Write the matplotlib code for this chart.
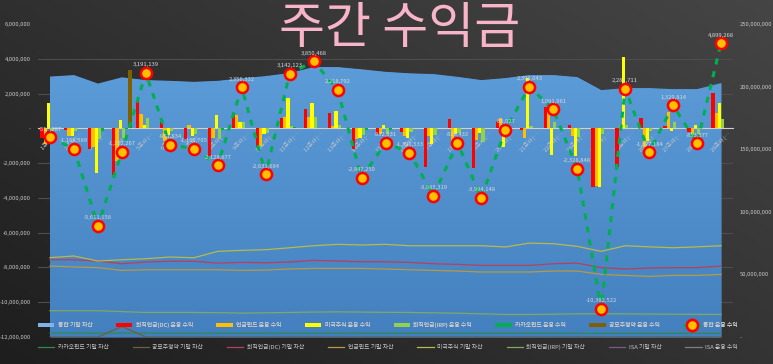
import numpy as np
import matplotlib
matplotlib.use('Agg')
import matplotlib.pyplot as plt
from matplotlib.colors import LinearSegmentedColormap
from matplotlib.ticker import FuncFormatter
from matplotlib.patches import Patch

plt.rcParams['font.family'] = ['Noto Sans CJK KR', 'DejaVu Sans']

# 주차 라벨
weeks = [f'{n}주차 (…' for n in range(1, 30)]

# 통합 운용 수익 (원)
total_profit = [-518887, -1168589, -5611158, -1352267, 3191139, -951834, -1160705,
                -2128677, 2356332, -2631684, 3142123, 3850468, 2218792, -2847250,
                -832031, -1390533, -3885319, -838432, -3994148, -88027, 2391043,
                1091961, -2328848, -10382522, 2281711, -1377184, 1329814, -853377,
                4899268]

# 항목별 운용 수익 (백만원)
dc_profit = [-0.55, -0.1, -1.2, -2.7, 1.55, 0.38, -0.6, -1.6, 0.9, -1.05, 0.57, 1.11, 0.9, -1.2,
             -0.3, -0.2, -2.2, 0.53, -2.3, 0.42, -0.1, 1.2, 0.22, -3.4, -2.2, 0.57, 0.15, -0.2, 2.05]
pension_profit = [-0.88, -0.45, -1.1, -1.9, 0.85, -0.75, 0.2, -0.57, 0.75, -1.0, 0.63, 0.63, 0.12, -0.6,
                  -0.35, -0.45, -0.42, -0.75, -0.67, 0.57, -0.55, 1.05, -0.45, -3.3, 0.2, -1.1, 0.96, -0.5, 0.86]
us_profit = [1.46, -0.45, -2.55, 0.48, 0.2, -0.4, -0.45, 0.77, 0.35, -0.3, 1.72, 1.47, 1.0, -0.55,
             0.2, -0.55, -0.9, -0.35, -0.25, -1.1, 2.9, -1.53, -1.6, -3.35, 4.1, -0.7, -0.15, 0.19, 1.45]
irp_profit = [-0.55, -0.17, -0.6, -0.55, 0.59, -0.18, -0.31, -0.63, 0.36, -0.28, 0.12, 0.64, 0.2, -0.4,
              -0.3, -0.19, -0.37, -0.27, -0.77, 0.02, 0.14, 0.37, -0.5, -0.33, 0.18, -0.15, 0.37, -0.34, 0.54]
kakao_profit = [0, 0, -0.16, -0.03, 0, 0, 0, -0.1, 0, 0, 0.1, 0, 0, -0.1,
                -0.08, 0, 0, 0, 0, 0, 0, 0, 0, 0, 0, 0, 0, 0, 0]
ipo_profit = [0, 0, 0, 3.35, 0, 0, 0, 0, 0, 0, 0, 0, 0, 0,
              0, 0, 0, 0, 0, 0, 0, 0, 0, 0, 0, 0, 0, 0, 0]
isa_profit = [0] * 29

# 기말 자산 (백만원)
total_asset = [208, 209.2, 202.4, 207.4, 205.2, 204.6, 203.8, 204.6, 206.6, 208.4, 210.8, 215.6, 215.6, 213.8,
               211.8, 210.6, 210, 207.8, 205.2, 206.8, 209.2, 209.2, 207.6, 197.2, 198.8, 198.8, 198, 198, 202.8]
us_asset = [63.4, 64.7, 60.7, 61.7, 62.5, 63.9, 63.3, 68.4, 69.2, 69.7, 71.3, 72.9, 74, 73.5,
            74, 72.9, 72.9, 72.9, 72.9, 71.9, 75, 74.5, 72.4, 68.4, 72.9, 72, 71.3, 72, 72.9]
dc_asset = [61.7, 61.7, 60.7, 58.5, 59.9, 60.5, 60.5, 59, 59.6, 59.3, 59.9, 61.2, 60.7, 60.1,
            60.1, 59.6, 58.5, 58, 57.2, 57.2, 57.2, 58.5, 59, 55.4, 54.3, 55.1, 55.4, 55.4, 56.7]
pension_asset = [56.7, 55.9, 55.4, 53.2, 53.7, 53.7, 53.7, 53.7, 53.2, 53.5, 54.3, 54.8, 54.8, 54.8,
                 54.3, 53.7, 53.2, 52.7, 51.9, 51.9, 51.9, 52.7, 52.7, 50, 49.2, 48.4, 49.2, 49.2, 50]
irp_asset = [21, 21, 21, 20.3, 19.6, 19.6, 19.6, 19.4, 19.1, 19.3, 19.6, 19.9, 20.1, 19.9,
             19.7, 19.6, 19.3, 19, 18.5, 18, 18, 18.2, 18.5, 18.5, 18.5, 18.3, 18.2, 18.1, 18]
kakao_asset = [3.2, 3.2, 3.1, 3.1, 3.1, 3.1, 3.1, 3.0, 3.0, 3.0, 3.1, 3.1, 3.1, 3.0,
               3.0, 3.0, 3.0, 3.0, 3.0, 3.0, 3.0, 3.0, 3.0, 2.9, 2.9, 2.9, 2.9, 2.9, 2.9]
ipo_asset = [0, 0, 0, 8.4, 0, 0, 0, 0, 0, 0, 0, 0, 0, 0,
             0, 0, 0, 0, 0, 0, 0, 0, 0, 0, 0, 0, 0, 0, 0]
isa_asset = [0] * 29

txt = '#c8c8c8'
small = 4.2


def money(v, pos=None):
    if abs(v) < 0.5:
        return '-'
    return f'{v:,.0f}'


fig = plt.figure(figsize=(7.73, 3.64), dpi=100)

# dark gradient background
bg = fig.add_axes([0, 0, 1, 1], zorder=-10)
bg.axis('off')
yy, xx = np.mgrid[0:1:100j, 0:1:200j]
bg_cmap = LinearSegmentedColormap.from_list('bg', ['#1e1e1e', '#454545'])
bg.imshow(0.55 * xx + 0.45 * (1 - yy), cmap=bg_cmap, aspect='auto', extent=[0, 1, 0, 1], origin='upper')

pos = [38 / 773, 27 / 364, 695 / 773, 313 / 364]
ax_r = fig.add_axes(pos)
ax_l = fig.add_axes(pos)
ax_r.patch.set_visible(False)
ax_l.patch.set_visible(False)

x = np.arange(len(weeks))

# right axis: assets
area = ax_r.fill_between(x, 0, np.array(total_asset) * 1e6, color='#5b9bd5', lw=0, zorder=1)
area_cmap = LinearSegmentedColormap.from_list('area', ['#4480bf', '#5fa0dc'])
im = ax_r.imshow(np.linspace(0, 1, 256).reshape(-1, 1), cmap=area_cmap, extent=[0, 28, 0, 250e6],
                 aspect='auto', origin='lower', zorder=1.1)
im.set_clip_path(area.get_paths()[0], transform=ax_r.transData)

asset_lines = [
    (kakao_asset, '#2f8a4f', '카카오펀드 기말 자산'),
    (ipo_asset, '#6b6040', '공모주청약 기말 자산'),
    (dc_asset, '#b8405a', '퇴직연금(DC) 기말 자산'),
    (pension_asset, '#b89a40', '연금펀드 기말 자산'),
    (us_asset, '#b5bb4a', '미국주식 기말 자산'),
    (irp_asset, '#7fa860', '퇴직연금(IRP) 기말 자산'),
    (isa_asset, '#7a5a8a', 'ISA 기말 자산'),
]
asset_handles = []
for vals, col, lab in asset_lines:
    h, = ax_r.plot(x, np.array(vals) * 1e6, color=col, lw=0.9, zorder=2, label=lab)
    asset_handles.append(h)

ax_r.set_xlim(-0.5, 28.5)
ax_r.set_ylim(0, 250e6)
ax_r.set_yticks(np.arange(0, 250e6 + 1, 50e6))
ax_r.set_yticks(np.linspace(0, 250e6, 10), minor=True)
ax_r.yaxis.tick_right()
ax_r.yaxis.set_major_formatter(FuncFormatter(money))
ax_r.tick_params(axis='y', which='both', length=0, pad=5, labelsize=small, labelcolor=txt)
ax_r.grid(which='minor', axis='y', color='#4d4d4d', lw=0.8)
ax_r.set_axisbelow(True)
ax_r.xaxis.set_visible(False)
for s in ax_r.spines.values():
    s.set_visible(False)

# left axis: weekly profits
bw = 0.135
bar_series = [
    (dc_profit, '#ff0000', '퇴직연금(DC) 운용 수익'),
    (pension_profit, '#ffc000', '연금펀드 운용 수익'),
    (us_profit, '#ffff00', '미국주식 운용 수익'),
    (irp_profit, '#92d050', '퇴직연금(IRP) 운용 수익'),
    (kakao_profit, '#00b050', '카카오펀드 운용 수익'),
    (ipo_profit, '#7f6000', '공모주청약 운용 수익'),
]
bar_handles = []
for k, (vals, col, lab) in enumerate(bar_series):
    b = ax_l.bar(x + (k - 2.5) * bw, np.array(vals) * 1e6, width=bw, color=col, lw=0, zorder=3, label=lab)
    bar_handles.append(b)

isa_h, = ax_l.plot(x, isa_profit, color='#7f7f7f', lw=0.9, zorder=2.5, label='ISA 운용 수익')

tot_h, = ax_l.plot(x, total_profit, color='#00b050', lw=2.2, dashes=(2, 2.3), marker='o', ms=8,
                   mfc='#ffc000', mec='#ff0000', mew=1.8, zorder=5, label='통합 운용 수익')
for xi, v in zip(x, total_profit):
    ax_l.annotate(f'{v:,}', (xi, v), xytext=(0, 4), textcoords='offset points', ha='center',
                  va='bottom', fontsize=small, color='#d8d8d8', zorder=6)

ax_l.set_xlim(-0.5, 28.5)
ax_l.set_ylim(-12e6, 6e6)
ax_l.set_yticks(np.arange(-12e6, 6e6 + 1, 2e6))
ax_l.yaxis.set_major_formatter(FuncFormatter(money))
ax_l.tick_params(axis='y', length=0, pad=5, labelsize=small, labelcolor=txt)
ax_l.set_xticks(x)
ax_l.set_xticklabels(weeks)
ax_l.tick_params(axis='x', length=0, pad=2, labelsize=4, labelcolor=txt, labelrotation=45)
for lbl in ax_l.get_xticklabels():
    lbl.set_ha('right')
    lbl.set_rotation_mode('anchor')
for s in ax_l.spines.values():
    s.set_visible(False)
ax_l.spines['bottom'].set_visible(True)
ax_l.spines['bottom'].set_position(('data', 0))
ax_l.spines['bottom'].set_color('#d0d0d0')
ax_l.spines['bottom'].set_linewidth(0.8)

# legends
area_h = Patch(facecolor='#7db3e6', edgecolor='none')
row1 = [area_h] + bar_handles + [tot_h]
lab1 = ['통합 기말 자산'] + [s[2] for s in bar_series] + ['통합 운용 수익']
row2 = asset_handles + [isa_h]
lab2 = [s[2] for s in asset_lines] + ['ISA 운용 수익']

leg_kw = dict(ncol=8, mode='expand', frameon=False, fontsize=small, labelcolor=txt,
              handlelength=2.8, handletextpad=0.6, borderaxespad=0, borderpad=0,
              bbox_transform=fig.transFigure, loc='center')
leg1 = ax_l.legend(row1, lab1, bbox_to_anchor=(38 / 773, 0.087, 700 / 773, 0.04), **leg_kw)
leg1.set_zorder(7)
ax_l.add_artist(leg1)
fig.legend(row2, lab2, bbox_to_anchor=(38 / 773, 0.027, 700 / 773, 0.04), **leg_kw)

fig.text(400 / 773, 1 - 43 / 364, '주간 수익금', fontsize=36, color='#f8b4c8', ha='center', va='baseline')

fig.savefig('out.png', dpi=100)
